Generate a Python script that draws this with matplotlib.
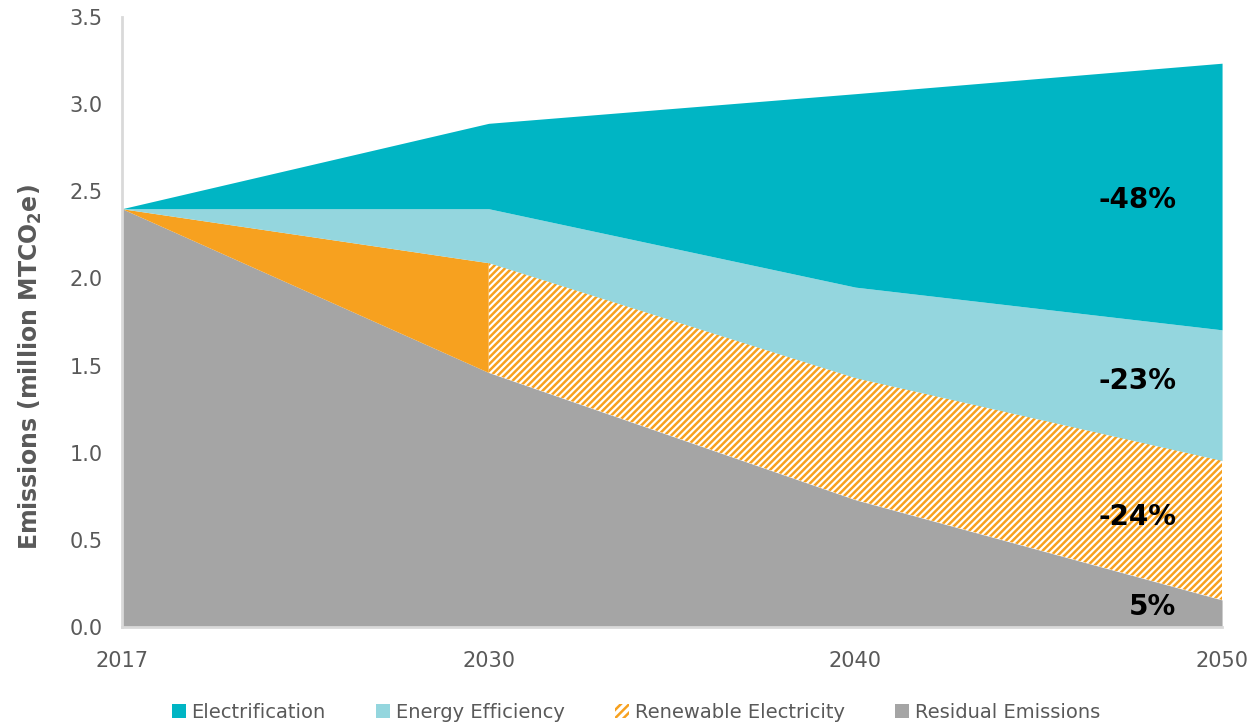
import numpy as np
import matplotlib.pyplot as plt
from matplotlib.patches import Patch

plt.rcParams['font.family'] = ['DejaVu Sans']
plt.rcParams['hatch.linewidth'] = 1.8

# data (million MTCO2e)
years = ['2017', '2030', '2040', '2050']
residual = [2.40, 1.46, 0.73, 0.155]
renewable = [0.0, 0.63, 0.70, 0.80]
efficiency = [0.0, 0.31, 0.52, 0.75]
electrification = [0.0, 0.49, 1.11, 1.53]
share_labels = ['-48%', '-23%', '-24%', '5%']
label_y = [2.45, 1.41, 0.63, 0.115]

c_elec = '#00B5C4'
c_eff = '#94D6DE'
c_ren = '#F7A11F'
c_res = '#A5A5A5'
grey = '#595959'

x = np.arange(len(years))
b1 = np.array(residual)
b2 = b1 + np.array(renewable)
b3 = b2 + np.array(efficiency)
b4 = b3 + np.array(electrification)

fig = plt.figure(figsize=(12.47, 7.27), dpi=100)
ax = fig.add_axes([0.0978, 0.1376, 0.8822, 0.839])

ax.fill_between(x, 0, b1, color=c_res, lw=0)
# renewable: solid for the first step, hatched afterwards
ax.fill_between(x[:2], b1[:2], b2[:2], color=c_ren, lw=0)
ax.fill_between(x[1:], b1[1:], b2[1:], facecolor='white', edgecolor=c_ren,
                hatch='/////', lw=0)
ax.fill_between(x, b2, b3, color=c_eff, lw=0)
ax.fill_between(x, b3, b4, color=c_elec, lw=0)

for t, yv in zip(share_labels, label_y):
    ax.text(2.875, yv, t, ha='right', va='center', fontsize=20,
            fontweight='bold', color='black')

ax.set_xlim(0, 3)
ax.set_ylim(0, 3.5)
ax.set_xticks(x)
ax.set_xticklabels(years)
ax.set_yticks(np.arange(0, 3.51, 0.5))
ax.set_yticklabels(['%.1f' % v for v in np.arange(0, 3.51, 0.5)])
ax.tick_params(length=0, labelsize=15, labelcolor=grey)
ax.tick_params(axis='x', pad=17)
ax.tick_params(axis='y', pad=14)
for s in ['top', 'right']:
    ax.spines[s].set_visible(False)
for s in ['left', 'bottom']:
    ax.spines[s].set_color('#D9D9D9')
    ax.spines[s].set_linewidth(2)

ax.set_ylabel('Emissions (million MTCO$_\\mathbf{2}$e)', fontsize=17,
              fontweight='bold', color=grey)
ax.yaxis.set_label_coords(-0.071, 0.426)

handles = [Patch(facecolor=c_elec, lw=0),
           Patch(facecolor=c_eff, lw=0),
           Patch(facecolor='white', edgecolor=c_ren, hatch='////', lw=0),
           Patch(facecolor=c_res, lw=0)]
names = ['Electrification', 'Energy Efficiency', 'Renewable Electricity',
         'Residual Emissions']
fig.legend(handles, names, loc='center', bbox_to_anchor=(0.51, 0.02),
           ncol=4, frameon=False, fontsize=14, labelcolor=grey,
           handlelength=0.7, handleheight=0.7, handletextpad=0.3,
           columnspacing=2.6)

fig.savefig('out.png', dpi=100)
